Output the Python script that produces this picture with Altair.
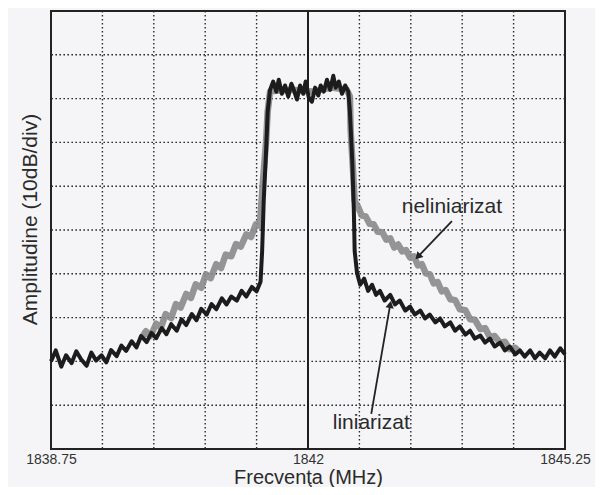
import altair as alt
import pandas as pd

# ---- readings: frequency (MHz) and level (10 dB per division, 0..100) ----
lin_freq = [1838.75, 1838.81, 1838.88, 1838.94, 1839.01, 1839.07, 1839.13, 1839.20, 1839.26, 1839.32,
            1839.39, 1839.45, 1839.51, 1839.58, 1839.64, 1839.70, 1839.77, 1839.83, 1839.89, 1839.96,
            1840.02, 1840.08, 1840.15, 1840.21, 1840.27, 1840.34, 1840.40, 1840.46, 1840.53, 1840.59,
            1840.65, 1840.72, 1840.78, 1840.84, 1840.91, 1840.97, 1841.03, 1841.10, 1841.16, 1841.22,
            1841.29, 1841.35, 1841.40,
            1841.42, 1841.44, 1841.47, 1841.49, 1841.52,
            1841.56, 1841.60, 1841.63, 1841.67, 1841.71, 1841.75, 1841.79, 1841.82, 1841.86, 1841.90,
            1841.94, 1841.97, 1842.01, 1842.05, 1842.09, 1842.13, 1842.16, 1842.20, 1842.24, 1842.28,
            1842.32, 1842.35, 1842.39, 1842.43, 1842.47, 1842.51,
            1842.53, 1842.56, 1842.58, 1842.59, 1842.62,
            1842.66, 1842.71, 1842.76, 1842.81, 1842.86, 1842.91, 1842.97, 1843.04, 1843.10, 1843.16,
            1843.23, 1843.29, 1843.35, 1843.42, 1843.48, 1843.54, 1843.61, 1843.67, 1843.73, 1843.80,
            1843.86, 1843.92, 1843.99, 1844.05, 1844.11, 1844.18, 1844.24, 1844.30, 1844.36, 1844.43,
            1844.49, 1844.55, 1844.62, 1844.68, 1844.74, 1844.81, 1844.87, 1844.93, 1845.00, 1845.06,
            1845.12, 1845.19, 1845.25]
lin_amp = [20.0, 22.5, 18.8, 21.4, 19.6, 22.3, 20.5, 19.0, 22.0, 20.2,
           21.4, 19.8, 22.6, 21.2, 23.6, 22.4, 24.6, 23.2, 25.8, 24.4,
           26.5, 25.3, 27.6, 26.2, 28.5, 27.0, 29.6, 28.3, 30.8, 29.4,
           32.0, 30.7, 33.1, 31.9, 34.4, 33.0, 34.8, 33.9, 36.1, 34.8,
           37.0, 36.0, 38.2,
           45.2, 56.6, 68.0, 77.0, 82.0,
           83.9, 81.6, 84.3, 81.1, 83.0, 80.5, 83.4, 82.0, 79.8, 83.0,
           81.1, 83.9, 80.2, 79.3, 82.5, 80.7, 83.0, 81.6, 84.3, 82.0,
           85.2, 82.5, 83.9, 81.1, 83.0, 81.6,
           77.0, 65.7, 54.3, 45.2, 40.2,
           37.5, 38.9, 36.1, 37.5, 35.2, 36.1, 33.9, 35.2, 33.0, 33.9,
           31.6, 32.5, 30.7, 31.6, 29.8, 30.7, 28.9, 29.8, 28.0, 28.9,
           27.0, 28.0, 26.1, 27.0, 25.2, 25.9, 24.3, 25.2, 23.4, 24.3,
           22.5, 23.4, 21.6, 22.5, 21.1, 22.5, 20.7, 22.0, 20.7, 22.5,
           21.1, 23.0, 21.6]

nel_freq = [1839.89, 1839.95, 1840.01, 1840.08, 1840.14, 1840.20, 1840.27, 1840.33, 1840.39, 1840.46,
            1840.52, 1840.58, 1840.65, 1840.71, 1840.77, 1840.84, 1840.90, 1840.96, 1841.03, 1841.09,
            1841.15, 1841.22, 1841.28, 1841.34, 1841.39,
            1841.43, 1841.47, 1841.49, 1841.52,
            1841.60, 1841.80, 1842.05, 1842.30, 1842.49, 1842.53,
            1842.54, 1842.57, 1842.59,
            1842.63, 1842.68, 1842.73, 1842.78, 1842.83, 1842.88, 1842.94, 1842.99, 1843.04, 1843.09,
            1843.14, 1843.19, 1843.24, 1843.29, 1843.34, 1843.39, 1843.44, 1843.49, 1843.54, 1843.59,
            1843.64, 1843.69, 1843.74, 1843.80, 1843.86, 1843.92, 1843.99, 1844.05, 1844.11, 1844.18,
            1844.24, 1844.30, 1844.36, 1844.43, 1844.49, 1844.55, 1844.62, 1844.68]
nel_amp = [25.2, 26.9, 25.8, 28.6, 27.7, 30.8, 29.9, 33.1, 32.3, 35.4,
           34.5, 37.6, 36.8, 39.9, 39.0, 42.2, 41.3, 44.4, 44.0, 46.8,
           46.2, 49.0, 48.4, 51.3, 51.0,
           61.1, 70.2, 77.0, 81.6,
           81.8, 82.0, 81.6, 82.5, 82.0, 80.5,
           72.5, 63.4, 56.6,
           55.4, 53.3, 53.1, 51.4, 51.3, 49.6, 49.5, 47.8, 48.1, 46.0,
           46.7, 45.1, 45.4, 43.7, 44.0, 41.9, 42.2, 40.1, 39.9, 37.8,
           38.1, 36.0, 36.3, 34.2, 34.0, 31.9, 31.7, 29.6, 29.5, 27.4,
           27.6, 25.5, 25.8, 24.2, 24.5, 22.8, 23.1, 22.0]

x_grid = [1839.4, 1840.05, 1840.7, 1841.35, 1842.65, 1843.3, 1843.95, 1844.6]
y_grid = [10, 20, 30, 40, 50, 60, 70, 80, 90]
center_freq = [1842]
x_labels = [1838.75, 1842, 1845.25]

note_text = ["neliniarizat", "liniarizat"]
note_f = [1843.82, 1842.80]
note_a = [55.3, 6.0]
arrow_f = [1843.82, 1842.80]
arrow_a = [52.0, 8.0]
arrow_f2 = [1843.39, 1843.04]
arrow_a2 = [43.9, 33.0]
arrow_angle = [223, 10]

FONT = "Liberation Sans"
xscale = alt.Scale(domain=[1838.75, 1845.25], nice=False, zero=False)
yscale = alt.Scale(domain=[0, 100], nice=False, zero=False)
xaxis = alt.Axis(values=x_labels, title="Frecvenţa (MHz)", grid=False, ticks=False, domain=False,
                 labelFlush=False, labelFontSize=14, labelPadding=3, labelFont=FONT,
                 labelColor="#333333", format=".2~f", titleFont=FONT, titleFontSize=20,
                 titleFontWeight="normal", titleColor="#2a2a2a", titleBaseline="alphabetic",
                 titleY=34)
yaxis = alt.Axis(title="Amplitudine (10dB/div)", labels=False, ticks=False, domain=False,
                 grid=False, titleFont=FONT, titleFontSize=21, titleFontWeight="normal",
                 titleColor="#2a2a2a", titleX=-21, titleY=208, titleBaseline="middle")


def X(field="f"):
    return alt.X(field, type="quantitative", scale=xscale, axis=xaxis)


def Y(field="a"):
    return alt.Y(field, type="quantitative", scale=yscale, axis=yaxis)


lin_df = pd.DataFrame({"f": lin_freq, "a": lin_amp})
nel_df = pd.DataFrame({"f": nel_freq, "a": nel_amp})
xg_df = pd.DataFrame({"f": x_grid})
yg_df = pd.DataFrame({"a": y_grid})
c_df = pd.DataFrame({"f": center_freq})
note_df = pd.DataFrame({"f": note_f, "a": note_a, "t": note_text})
arr_df = pd.DataFrame({"f": arrow_f, "a": arrow_a, "f2": arrow_f2, "a2": arrow_a2,
                       "ang": arrow_angle})

grid_style = dict(color="#2b2b2b", strokeDash=[1.6, 2.4], strokeWidth=1.4)
vgrid = alt.Chart(xg_df).mark_rule(**grid_style).encode(x=X())
hgrid = alt.Chart(yg_df).mark_rule(**grid_style).encode(y=Y())
center = alt.Chart(c_df).mark_rule(color="#1e1e1e", strokeWidth=2).encode(x=X())

nel = alt.Chart(nel_df).mark_line(color="#8a8a8a", strokeWidth=6.5, opacity=0.9,
                                  strokeJoin="round").encode(x=X(), y=Y(), order="f:Q")
lin = alt.Chart(lin_df).mark_line(color="#1c1c1c", strokeWidth=4,
                                  strokeJoin="round").encode(x=X(), y=Y(), order="f:Q")

shaft = alt.Chart(arr_df).mark_rule(color="#222222", strokeWidth=1.8).encode(
    x=X(), y=Y(), x2="f2:Q", y2="a2:Q")
head = alt.Chart(arr_df).mark_point(shape="triangle-up", filled=True, size=70, color="#222222",
                                    opacity=1).encode(
    x=X("f2"), y=Y("a2"), angle=alt.Angle("ang:Q", scale=None))
notes = alt.Chart(note_df).mark_text(font=FONT, fontSize=21, color="#2a2a2a").encode(
    x=X(), y=Y(), text="t:N")

chart = alt.layer(vgrid, hgrid, center, nel, lin, shaft, head, notes).properties(
    width=514, height=438, autosize="none",
    padding={"left": 43, "top": 3, "right": 30, "bottom": 38},
    background="#f5f5f7",
).configure_view(stroke="#222222", strokeWidth=2)

chart.save("out.html", embed_options={"renderer": "svg", "actions": False})
